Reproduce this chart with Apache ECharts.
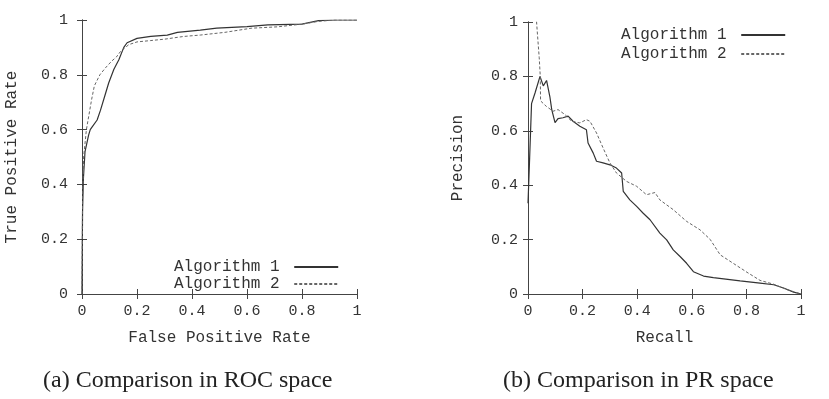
<!DOCTYPE html>
<html>
<head>
<meta charset="utf-8">
<script src="https://cdn.jsdelivr.net/npm/echarts@6/dist/echarts.min.js"></script>
<style>
  html, body { margin: 0; padding: 0; background: #fff; }
  #main { width: 829px; height: 399px; }
</style>
</head>
<body>
<div id="main"></div>
<script>
// ROC curves (false positive rate -> true positive rate)
const roc1Fpr = [0, 0.002, 0.005, 0.011, 0.024, 0.03, 0.037, 0.055, 0.067, 0.085, 0.097, 0.116, 0.134, 0.152, 0.164, 0.2, 0.25, 0.31, 0.347, 0.43, 0.49, 0.6, 0.676, 0.8, 0.86, 0.92, 1];
const roc1Tpr = [0, 0.3, 0.42, 0.52, 0.58, 0.6, 0.61, 0.635, 0.67, 0.73, 0.77, 0.82, 0.855, 0.9, 0.917, 0.933, 0.94, 0.945, 0.955, 0.963, 0.97, 0.976, 0.982, 0.985, 0.998, 1, 1];
const roc2Fpr = [0, 0.002, 0.006, 0.016, 0.035, 0.045, 0.065, 0.085, 0.108, 0.125, 0.14, 0.17, 0.2, 0.25, 0.3, 0.37, 0.43, 0.52, 0.615, 0.71, 0.8, 0.86, 0.92, 1];
const roc2Tpr = [0, 0.35, 0.5, 0.6, 0.71, 0.76, 0.8, 0.825, 0.85, 0.865, 0.885, 0.91, 0.92, 0.925, 0.93, 0.94, 0.945, 0.955, 0.97, 0.975, 0.985, 0.995, 1, 1];

// PR curves (recall -> precision)
const pr1Recall = [0, 0.006, 0.013, 0.026, 0.044, 0.056, 0.068, 0.08, 0.087, 0.099, 0.11, 0.128, 0.147, 0.165, 0.19, 0.214, 0.22, 0.239, 0.251, 0.275, 0.3, 0.324, 0.343, 0.349, 0.373, 0.398, 0.422, 0.447, 0.483, 0.508, 0.532, 0.557, 0.581, 0.606, 0.643, 0.679, 0.777, 0.85, 0.9, 0.936, 0.973, 1];
const pr1Prec = [0.334, 0.5, 0.70, 0.74, 0.80, 0.765, 0.785, 0.726, 0.678, 0.63, 0.645, 0.648, 0.654, 0.635, 0.617, 0.604, 0.555, 0.518, 0.488, 0.482, 0.475, 0.463, 0.445, 0.377, 0.346, 0.322, 0.297, 0.273, 0.224, 0.199, 0.162, 0.138, 0.113, 0.082, 0.066, 0.06, 0.048, 0.04, 0.034, 0.022, 0.007, 0];
const pr2Recall = [0.03, 0.035, 0.041, 0.045, 0.046, 0.067, 0.092, 0.11, 0.135, 0.16, 0.19, 0.214, 0.227, 0.251, 0.275, 0.3, 0.324, 0.361, 0.398, 0.434, 0.465, 0.483, 0.532, 0.581, 0.63, 0.667, 0.704, 0.753, 0.802, 0.85, 0.9, 0.949, 1];
const pr2Prec = [1.02, 0.95, 0.87, 0.80, 0.71, 0.69, 0.672, 0.678, 0.66, 0.635, 0.629, 0.641, 0.635, 0.592, 0.537, 0.482, 0.445, 0.414, 0.396, 0.365, 0.373, 0.346, 0.31, 0.267, 0.236, 0.201, 0.144, 0.112, 0.08, 0.05, 0.036, 0.016, 0];

const seriesNames = ['Algorithm 1', 'Algorithm 2'];
const captions = ['(a) Comparison in ROC space', '(b) Comparison in PR space'];

const zip = (xs, ys) => xs.map((x, i) => [x, ys[i]]);

const mono = 'Liberation Mono';
const axisColor = '#444';
const textColor = '#333';

function mainX(grid, name) {
  return {
    type: 'value', gridIndex: grid, min: 0, max: 1, interval: 0.2,
    name: name, nameLocation: 'middle', nameGap: 36,
    nameTextStyle: { fontFamily: mono, fontSize: 16, color: textColor },
    axisLine: { show: true, lineStyle: { color: axisColor } },
    axisTick: { inside: true, length: 5, lineStyle: { color: axisColor } },
    axisLabel: { fontFamily: mono, fontSize: 15, color: textColor, margin: 10 },
    splitLine: { show: false }
  };
}
function mainY(grid, name, margin) {
  return {
    type: 'value', gridIndex: grid, min: 0, max: 1, interval: 0.2,
    name: name, nameLocation: 'middle', nameGap: 62,
    nameTextStyle: { fontFamily: mono, fontSize: 16, color: textColor },
    axisLine: { show: true, lineStyle: { color: axisColor } },
    axisTick: { inside: true, length: 5, lineStyle: { color: axisColor } },
    axisLabel: { fontFamily: mono, fontSize: 15, color: textColor, margin: margin },
    splitLine: { show: false }
  };
}
function mirror(grid, pos) {
  return {
    type: 'value', gridIndex: grid, min: 0, max: 1, interval: 0.2, position: pos,
    axisLine: { show: true, lineStyle: { color: axisColor } },
    axisTick: { inside: true, length: 5, lineStyle: { color: axisColor } },
    axisLabel: { show: false },
    splitLine: { show: false }
  };
}

function line(name, data, xi, yi, dashed) {
  return {
    name: name, type: 'line', xAxisIndex: xi, yAxisIndex: yi,
    data: data, symbol: 'none', clip: true,
    lineStyle: dashed
      ? { color: '#666', width: 1, type: [3, 2] }
      : { color: '#333', width: 1.2 },
    itemStyle: { color: dashed ? '#666' : '#333' }
  };
}

function legend(left, top, gap) {
  return {
    orient: 'vertical', left: left, top: top, padding: 0, itemGap: gap,
    align: 'right', itemWidth: 44, itemHeight: 14,
    itemStyle: { opacity: 0 },
    data: seriesNames,
    formatter: n => n + ' ',
    textStyle: { fontFamily: mono, fontSize: 16, color: textColor, lineHeight: 16 }
  };
}

const captionStyle = { fontFamily: 'Liberation Serif', fontSize: 24, fontWeight: 'normal', color: '#222' };

const chart = echarts.init(document.getElementById('main'));
chart.setOption({
  backgroundColor: '#fff',
  animation: false,
  grid: [
    { left: 82, top: 20, width: 275, height: 274 },
    { left: 528, top: 22, width: 273, height: 272 }
  ],
  xAxis: [
    mainX(0, 'False Positive Rate'), mirror(0, 'top'),
    mainX(1, 'Recall'), mirror(1, 'top')
  ],
  yAxis: [
    mainY(0, 'True Positive Rate', 14), mirror(0, 'right'),
    mainY(1, 'Precision', 10), mirror(1, 'right')
  ],
  legend: [legend(174, 259, 1), legend(621, 27, 3)],
  title: [
    { text: captions[0], left: 43, top: 369, padding: 0, textStyle: captionStyle },
    { text: captions[1], left: 503, top: 369, padding: 0, textStyle: captionStyle }
  ],
  series: [
    line(seriesNames[0], zip(roc1Fpr, roc1Tpr), 0, 0, false),
    line(seriesNames[1], zip(roc2Fpr, roc2Tpr), 0, 0, true),
    line(seriesNames[0], zip(pr1Recall, pr1Prec), 2, 2, false),
    line(seriesNames[1], zip(pr2Recall, pr2Prec), 2, 2, true)
  ]
});
</script>
</body>
</html>
